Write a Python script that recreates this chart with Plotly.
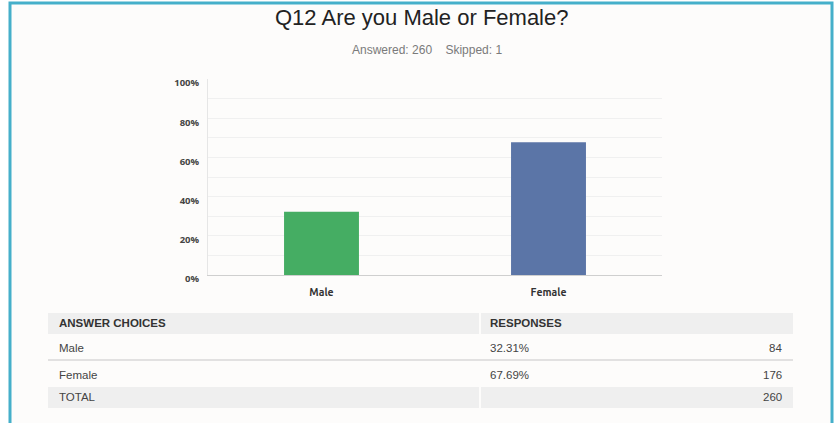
import plotly.graph_objects as go

# ---- data ----
title_text = "Q12 Are you Male or Female?"
answered = 260
skipped = 1
categories = ["Male", "Female"]
percents = [32.31, 67.69]
counts = [84, 176]
total = 260
bar_colors = ["#45ad63", "#5b75a7"]
y_tick_vals = [0, 20, 40, 60, 80, 100]
y_tick_text = ["0%", "20%", "40%", "60%", "80%", "100%"]

W, H = 838, 423
L, R, T, B = 208, 662, 79, 275  # plot area in pixels


def px(x):
    return (x - L) / (R - L)


def py(y):
    return (B - y) / (B - T)


fig = go.Figure()
fig.add_trace(go.Bar(
    x=categories, y=percents, marker=dict(color=bar_colors, line=dict(width=0)),
    width=0.33, hoverinfo="skip",
))

shapes = []
annotations = []

# outer frame
shapes.append(dict(type="rect", xref="paper", yref="paper",
                   x0=px(10), x1=px(832), y0=py(440), y1=py(3),
                   line=dict(color="#45afca", width=3), fillcolor="#fdfcfb", layer="below"))

# title & subtitle
annotations.append(dict(text=title_text, xref="paper", yref="paper", x=px(421), y=py(17),
                        showarrow=False, xanchor="center", yanchor="middle",
                        font=dict(family="Liberation Sans, Arial", size=22, color="#222")))
annotations.append(dict(text=f"Answered: {answered}&nbsp;&nbsp;&nbsp;&nbsp;Skipped: {skipped}",
                        xref="paper", yref="paper", x=px(427), y=py(50),
                        showarrow=False, xanchor="center", yanchor="middle",
                        font=dict(family="Liberation Sans, Arial", size=12, color="#7a7a7a")))

# table geometry (pixels)
tx0, tsplit, tx1 = 48, 480, 793
row_edges = [313, 334, 360, 387, 408]
gray = "#efefef"
for (y0, y1) in [(row_edges[0], row_edges[1]), (row_edges[3], row_edges[4])]:
    shapes.append(dict(type="rect", xref="paper", yref="paper", x0=px(tx0), x1=px(tsplit - 1),
                       y0=py(y1), y1=py(y0), line=dict(width=0), fillcolor=gray, layer="below"))
    shapes.append(dict(type="rect", xref="paper", yref="paper", x0=px(tsplit + 1), x1=px(tx1),
                       y0=py(y1), y1=py(y0), line=dict(width=0), fillcolor=gray, layer="below"))
shapes.append(dict(type="line", xref="paper", yref="paper", x0=px(tx0), x1=px(tx1),
                   y0=py(row_edges[2]), y1=py(row_edges[2]), line=dict(color="#d8d8d8", width=1.5)))

tfont = dict(family="Liberation Sans, Arial", size=11.5, color="#444")
hfont = dict(family="Liberation Sans, Arial", size=11.5, color="#333")
txt_left, txt_resp, txt_right = 57, 488, 784
text_y = [323, 348, 375, 397]

annotations.append(dict(text="<b>ANSWER CHOICES</b>", xref="paper", yref="paper", x=px(txt_left),
                        y=py(text_y[0]), showarrow=False, xanchor="left", yanchor="middle", font=hfont))
annotations.append(dict(text="<b>RESPONSES</b>", xref="paper", yref="paper", x=px(txt_resp),
                        y=py(text_y[0]), showarrow=False, xanchor="left", yanchor="middle", font=hfont))
for i, (cat, pct, cnt) in enumerate(zip(categories, percents, counts)):
    yy = py(text_y[i + 1])
    annotations.append(dict(text=cat, xref="paper", yref="paper", x=px(txt_left), y=yy,
                            showarrow=False, xanchor="left", yanchor="middle", font=tfont))
    annotations.append(dict(text=f"{pct:.2f}%", xref="paper", yref="paper", x=px(txt_resp), y=yy,
                            showarrow=False, xanchor="left", yanchor="middle", font=tfont))
    annotations.append(dict(text=str(cnt), xref="paper", yref="paper", x=px(txt_right), y=yy,
                            showarrow=False, xanchor="right", yanchor="middle", font=tfont))
annotations.append(dict(text="TOTAL", xref="paper", yref="paper", x=px(txt_left), y=py(text_y[3]),
                        showarrow=False, xanchor="left", yanchor="middle", font=tfont))
annotations.append(dict(text=str(total), xref="paper", yref="paper", x=px(txt_right), y=py(text_y[3]),
                        showarrow=False, xanchor="right", yanchor="middle", font=tfont))

fig.update_layout(
    width=W, height=H,
    margin=dict(l=L, r=W - R, t=T, b=H - B, pad=0),
    paper_bgcolor="white", plot_bgcolor="rgba(0,0,0,0)",
    showlegend=False,
    shapes=shapes, annotations=annotations,
    xaxis=dict(showline=True, linecolor="#cfcfcf", linewidth=1, ticks="", showgrid=False,
               tickfont=dict(family="Ubuntu, Open Sans", size=10.5, color="#333", weight="bold"),
               ticklabelstandoff=7),
    yaxis=dict(range=[0, 100], tickvals=y_tick_vals, ticktext=y_tick_text,
               showline=True, linecolor="#e6e6e6", linewidth=1,
               showgrid=True, gridcolor="#f0f0f0", zeroline=False,
               minor=dict(dtick=10, showgrid=True, gridcolor="#f0f0f0"),
               tickfont=dict(family="Open Sans", size=9.5, color="#444", weight="bold"),
               ticklabelstandoff=6, ticklabelshift=4),
)

fig.write_html("out.html", config={"displayModeBar": False},
               post_script="document.body.style.margin='0';document.body.style.padding='0';")
